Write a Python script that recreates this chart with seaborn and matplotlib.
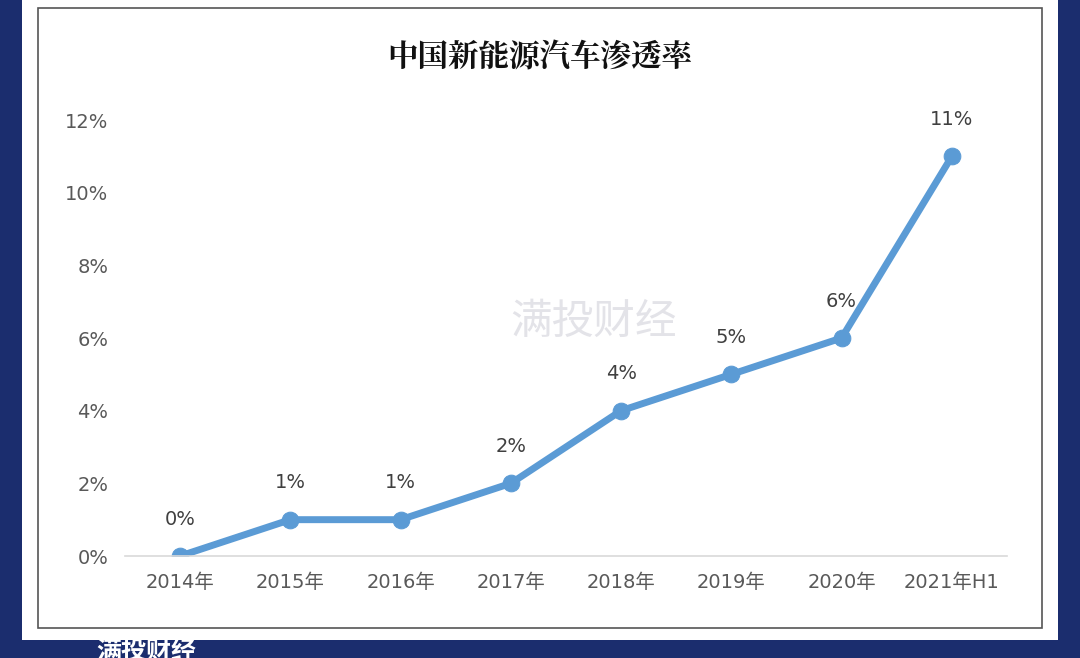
import matplotlib
matplotlib.use("Agg")
import matplotlib.pyplot as plt
from matplotlib import font_manager as fm
import seaborn as sns
from matplotlib.patches import Rectangle

years = ["2014年", "2015年", "2016年", "2017年", "2018年", "2019年", "2020年", "2021年H1"]
rates = [0, 1, 1, 2, 4, 5, 6, 11]
labels = ["0%", "1%", "1%", "2%", "4%", "5%", "6%", "11%"]
yticks = [0, 2, 4, 6, 8, 10, 12]

serif_cjk = None
sans_cjk = None
for f in fm.findSystemFonts():
    if "CJK" in f:
        try:
            fm.fontManager.addfont(f)
            name = fm.FontProperties(fname=f).get_name()
        except Exception:
            continue
        if "Serif" in name and serif_cjk is None:
            serif_cjk = name
        if "Sans" in name and sans_cjk is None:
            sans_cjk = name
sans_cjk = sans_cjk or serif_cjk or "Noto Sans CJK SC"
serif_cjk = serif_cjk or sans_cjk
plt.rcParams["font.family"] = ["DejaVu Sans", sans_cjk]

fig = plt.figure(figsize=(10.8, 6.58), dpi=100)
fig.patch.set_facecolor("#1b2d6e")
fig.patches.append(Rectangle((22/1080, 18/658), 1036/1080, 640/658, transform=fig.transFigure,
                             facecolor="white", edgecolor="none", zorder=-2))
fig.patches.append(Rectangle((38/1080, 30/658), 1004/1080, 620/658, transform=fig.transFigure,
                             facecolor="none", edgecolor="#555555", lw=1.2, zorder=-1))

fig.text(0.55, 1-322/658, "满投财经", ha="center", va="center", fontsize=30,
         color="#e3e3e8", zorder=-0.5, family=[sans_cjk])

ax = fig.add_axes([125/1080, 1-556/658, 882/1080, 436/658])
ax.set_zorder(2)
ax.set_facecolor("none")
x = list(range(len(years)))
sns.lineplot(x=x, y=rates, ax=ax, color="#5b9bd5", lw=5, marker="o", markersize=12,
             markeredgecolor="#5b9bd5")
for xi, v, t in zip(x, rates, labels):
    ax.text(xi, v + 0.75, t, ha="center", va="bottom", fontsize=14, color="#404040")
ax.set_xlim(-0.5, len(years) - 0.5)
ax.set_ylim(0, 12)
ax.set_xticks(x)
ax.set_xticklabels(years, fontsize=14, color="#595959")
ax.set_yticks(yticks)
ax.set_yticklabels([f"{t}%" for t in yticks], fontsize=14, color="#595959")
ax.tick_params(length=0, pad=12)
for s in ["top", "right", "left"]:
    ax.spines[s].set_visible(False)
ax.spines["bottom"].set_color("#d9d9d9")
ax.spines["bottom"].set_linewidth(1.2)

fig.text(0.5, 1-58/658, "中国新能源汽车渗透率", ha="center", va="center", fontsize=22,
         fontweight="bold", color="#111111", family=[serif_cjk])
fig.text(96/1080, -6/658, "满投财经", ha="left", va="bottom", fontsize=18,
         color="white", fontweight="bold", family=[sans_cjk])
fig.savefig("out.png", dpi=100, facecolor=fig.get_facecolor())
